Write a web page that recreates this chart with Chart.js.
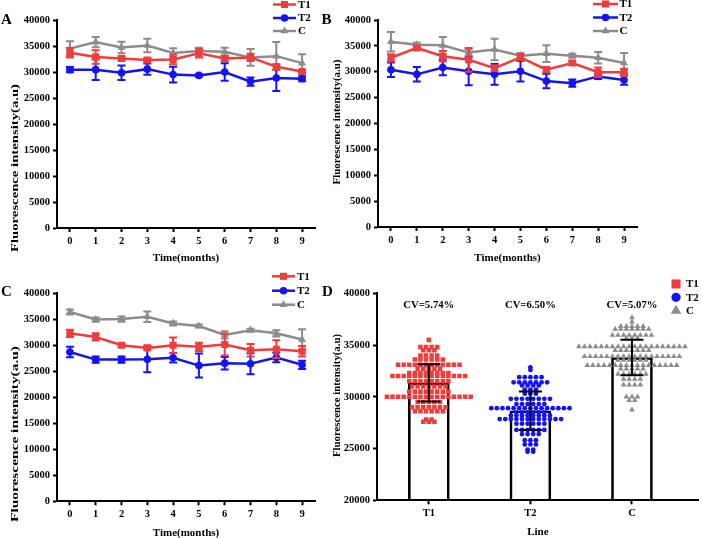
<!DOCTYPE html>
<html><head><meta charset="utf-8">
<script src="https://cdn.jsdelivr.net/npm/chart.js@4.4.1/dist/chart.umd.min.js"></script>
<style>
html,body{margin:0;padding:0;background:#fff;}
#wrap{position:relative;width:702px;height:538px;overflow:hidden;background:#fff;}
canvas{position:absolute;display:block;}
</style></head><body>
<div id="wrap">
<canvas id="cA" width="320" height="269" style="left:0;top:0"></canvas>
<canvas id="cB" width="382" height="269" style="left:320px;top:0"></canvas>
<canvas id="cC" width="320" height="269" style="left:0;top:269px"></canvas>
<canvas id="cD" width="382" height="269" style="left:320px;top:269px"></canvas>
</div>
<script>
// ---------------- DATA ----------------
const months = ['0','1','2','3','4','5','6','7','8','9'];
const groups = ['T1','T2','C'];

// Panel A
const aT1    = [33700,32900,32600,32300,32400,33600,32600,32800,31000,30100];
const aT1Err = [900,1300,400,400,900,800,500,700,500,300];
const aT2    = [30450,30450,29850,30550,29500,29350,30000,28150,28850,28700];
const aT2Err = [500,2000,1400,1100,1500,200,1700,800,2500,500];
const aC     = [34500,35750,34700,35100,33650,34050,33900,32800,33050,31700];
const aCErr  = [1400,1000,1100,1300,900,600,750,1600,2700,1700];

// Panel B
const bT1    = [32700,34600,33000,32300,30700,32800,30400,31700,29900,29900];
const bT1Err = [700,400,1000,2300,500,600,500,400,900,700];
const bT2    = [30400,29500,30800,30100,29500,30100,28200,27800,29100,28400];
const bT2Err = [1400,1400,1500,2700,2000,2000,1400,700,500,900];
const bC     = [35800,35200,35100,33700,34300,33100,33500,33100,32700,31700];
const bCErr  = [1900,400,1600,600,2100,500,1600,400,1100,1900];

// Panel C
const cT1    = [32300,31600,30000,29500,30000,29700,30150,29050,29250,28850];
const cT1Err = [700,700,300,400,1500,800,2100,1200,1700,1000];
const cT2    = [28700,27250,27250,27300,27600,26100,26570,26450,27650,26250];
const cT2Err = [1000,600,600,2500,900,2300,1200,2000,900,800];
const cC     = [36400,34950,35050,35500,34200,33700,32000,32900,32300,31100];
const cCErr  = [500,400,500,1000,400,300,700,300,600,2000];

// Panel D : mean, SD, CV labels
const dMeans = [31350,28650,33800];
const dSD    = [1800,1860,1715];
const dCV    = ['CV=5.74%','CV=6.50%','CV=5.07%'];
// Panel D individual dots: [value, number of dots at that value]
const dT1Rows = [[35500,1],[34800,4],[34500,3],[34000,4],[33600,6],[33100,12],[32700,5],[32300,8],[32000,14],
                 [31500,8],[31000,7],[30500,8],[30000,16],[29500,5],[29000,7],[28600,6],[27800,2],[27600,3]];
const dT2Rows = [[32850,1],[32600,1],[31900,5],[31400,7],[31100,4],[30700,3],[30300,3],[29800,8],[29300,6],
                 [28900,15],[28500,6],[28200,8],[27850,12],[27400,6],[26800,6],[26400,4],[25800,3],[25400,3],
                 [24900,2],[24700,2]];
const dCRows  = [[37650,1],[37250,1],[36800,5],[36550,7],[35950,8],[35650,3],[34850,20],[34500,7],[33900,18],
                 [33550,6],[33050,17],[32700,5],[32200,6],[31700,4],[31150,4],[30000,3],[29650,2],[28750,1]];

// ---------------- STYLE ----------------
const FONT = '"Liberation Serif", "Times New Roman", serif';
const COL = {T1:'#F03C3C', T2:'#1414F0', C:'#8C8C8C'};
const STYLE = {T1:'rect', T2:'circle', C:'triangle'};
const RAD = {T1:5, T2:3.8, C:4.6};

function drawMarker(ctx, style, x, y, r, color){
  ctx.save(); ctx.fillStyle = color; ctx.beginPath();
  if (style === 'rect'){ const s = r*Math.SQRT1_2; ctx.rect(x-s, y-s, 2*s, 2*s); }
  else if (style === 'circle'){ ctx.arc(x, y, r, 0, Math.PI*2); }
  else { ctx.moveTo(x, y - r); ctx.lineTo(x + r*0.866, y + r*0.5); ctx.lineTo(x - r*0.866, y + r*0.5); ctx.closePath(); }
  ctx.fill(); ctx.restore();
}

function yTitle(ctx, text, cx, cy, len){
  ctx.save(); ctx.translate(cx, cy); ctx.rotate(-Math.PI/2);
  ctx.font = 'bold 11px ' + FONT;
  const w = ctx.measureText(text).width;
  ctx.scale(len / w, 1);
  ctx.fillStyle = '#000'; ctx.textAlign = 'center'; ctx.textBaseline = 'middle';
  ctx.fillText(text, 0, 0); ctx.restore();
}

const decoPlugin = {
  id: 'deco',
  beforeDatasetDraw(chart, args, opts){
    const ds = chart.data.datasets[args.index];
    if (!ds.errors) return;
    const ctx = chart.ctx, ys = chart.scales.y;
    ctx.save(); ctx.strokeStyle = ds.borderColor; ctx.lineWidth = 2;
    args.meta.data.forEach((pt, i) => {
      const v = ds.data[i], e = ds.errors[i];
      const t = ys.getPixelForValue(v + e), b = ys.getPixelForValue(v - e);
      ctx.beginPath();
      ctx.moveTo(pt.x, t); ctx.lineTo(pt.x, b);
      ctx.moveTo(pt.x - 4, t); ctx.lineTo(pt.x + 4, t);
      ctx.moveTo(pt.x - 4, b); ctx.lineTo(pt.x + 4, b);
      ctx.stroke();
    });
    ctx.restore();
  },
  afterDraw(chart, args, o){
    const ctx = chart.ctx, ca = chart.chartArea;
    ctx.save();
    ctx.font = 'bold 15px ' + FONT; ctx.fillStyle = '#000';
    ctx.textAlign = 'left'; ctx.textBaseline = 'middle';
    ctx.fillText(o.label, o.labelX, o.labelY);
    yTitle(ctx, 'Fluorescence intensity(a.u)', o.yt[0], o.yt[1], o.yt[2]);
    ctx.font = 'bold 11px ' + FONT; ctx.textAlign = 'center'; ctx.textBaseline = 'middle'; ctx.fillStyle = '#000';
    ctx.fillText(o.xTitle, (ca.left + ca.right)/2, o.xTitleY);
    const L = o.legend;
    groups.forEach((g, i) => {
      const y = L.rows[i];
      if (L.lines){
        ctx.strokeStyle = COL[g]; ctx.lineWidth = 2.5;
        ctx.beginPath(); ctx.moveTo(L.x1, y); ctx.lineTo(L.x2, y); ctx.stroke();
      }
      drawMarker(ctx, STYLE[g], L.mx, y, L.r[g], COL[g]);
      ctx.font = 'bold 11px ' + FONT; ctx.fillStyle = '#000'; ctx.textAlign = 'left'; ctx.textBaseline = 'middle';
      ctx.fillText(g, L.tx, y + 0.5);
    });
    ctx.restore();
  }
};

function axisCommon(){
  return {
    grid: {display:true, drawOnChartArea:false, drawTicks:true, tickLength:4, tickWidth:2, tickColor:'#000'},
    border: {display:true, color:'#000', width:2},
    ticks: {color:'#000', font:{family:FONT, size:10.5, weight:'bold', lineHeight:1.2}}
  };
}

function lineChart(id, sets, lay, deco){
  const ds = sets.map(([g, vals, errs]) => ({
    label: g, data: vals, errors: errs,
    borderColor: COL[g], backgroundColor: COL[g], borderWidth: 2.5,
    pointStyle: STYLE[g], pointRadius: RAD[g], pointBorderWidth: 0, pointHoverRadius: RAD[g],
    tension: 0, fill: false
  }));
  const xa = axisCommon(), ya = axisCommon();
  Object.assign(xa, {type:'category', offset:true, afterFit: s => { s.height = lay.xh; }});
  xa.ticks.padding = 2.5; xa.ticks.maxRotation = 0; xa.ticks.autoSkip = false;
  Object.assign(ya, {min:0, max:40000, afterFit: s => { s.width = lay.yw; }});
  ya.ticks.stepSize = 5000; ya.ticks.padding = 3; ya.ticks.callback = v => String(v);
  return new Chart(document.getElementById(id), {
    type: 'line',
    data: {labels: months, datasets: ds},
    options: {
      responsive:false, animation:false, devicePixelRatio:1,
      layout: {padding: {left:0, top:lay.top, right:lay.right, bottom:0}},
      plugins: {legend:{display:false}, tooltip:{enabled:false}, deco: deco},
      scales: {x: xa, y: ya}
    },
    plugins: [decoPlugin]
  });
}

lineChart('cA', [['T1',aT1,aT1Err],['T2',aT2,aT2Err],['C',aC,aCErr]],
  {xh:41, yw:57, top:20, right:5},
  {label:'A', labelX:1, labelY:20.5, yt:[15.5,168,168], xTitle:'Time(months)', xTitleY:258,
   legend:{lines:true, x1:273, x2:296, mx:284.5, tx:298, rows:[4.5,18,31], r:RAD}});

lineChart('cB', [['T1',bT1,bT1Err],['T2',bT2,bT2Err],['C',bC,bCErr]],
  {xh:42, yw:58, top:20, right:65},
  {label:'B', labelX:1.5, labelY:20.5, yt:[17,122,125], xTitle:'Time(months)', xTitleY:258,
   legend:{lines:true, x1:273, x2:298, mx:285.5, tx:299.5, rows:[4,17.5,31], r:RAD}});

lineChart('cC', [['T1',cT1,cT1Err],['T2',cT2,cT2Err],['C',cC,cCErr]],
  {xh:36.7, yw:57, top:24.3, right:5},
  {label:'C', labelX:1, labelY:23, yt:[15.5,165,176], xTitle:'Time(months)', xTitleY:264,
   legend:{lines:true, x1:272, x2:295, mx:283.5, tx:297, rows:[7.3,21.7,35.7], r:RAD}});

// ---------------- Panel D ----------------
const DOT_STEP = 0.055;
function swarm(rows, center){
  const pts = [];
  rows.forEach(([v, n]) => { for (let i = 0; i < n; i++) pts.push({x: center + (i - (n-1)/2)*DOT_STEP, y: v}); });
  return pts;
}
const dPlugin = {
  id: 'dbars',
  afterDatasetsDraw(chart){
    const ctx = chart.ctx, xs = chart.scales.x, ys = chart.scales.y;
    ctx.save(); ctx.strokeStyle = '#000'; ctx.lineWidth = 2;
    dMeans.forEach((m, i) => {
      const x = xs.getPixelForValue(i), t = ys.getPixelForValue(m + dSD[i]), b = ys.getPixelForValue(m - dSD[i]);
      ctx.beginPath();
      ctx.moveTo(x, t); ctx.lineTo(x, b);
      ctx.moveTo(x - 11.5, t); ctx.lineTo(x + 11.5, t);
      ctx.moveTo(x - 11.5, b); ctx.lineTo(x + 11.5, b);
      ctx.stroke();
      ctx.font = 'bold 10.7px ' + FONT; ctx.fillStyle = '#000'; ctx.textAlign = 'center'; ctx.textBaseline = 'middle';
      ctx.fillText(dCV[i], x, 36.7);
    });
    ctx.restore();
  }
};
(function(){
  const xa = axisCommon(), ya = axisCommon();
  Object.assign(xa, {type:'linear', min:-0.51, max:2.657, offset:false, bounds:'ticks',
    afterBuildTicks: s => { s.ticks = groups.map((g, i) => ({value: i})); },
    afterFit: s => { s.height = 37.7; }});
  xa.grid.offset = false;
  xa.ticks.padding = 3; xa.ticks.maxRotation = 0; xa.ticks.autoSkip = false;
  xa.ticks.callback = (v) => groups[v];
  Object.assign(ya, {type:'linear', min:20000, max:40000, afterFit: s => { s.width = 57; }});
  ya.ticks.stepSize = 5000; ya.ticks.padding = 3; ya.ticks.callback = v => String(v);
  const dotRad = {T1:3.2, T2:2.4, C:3.3};
  const rowsOf = {T1:dT1Rows, T2:dT2Rows, C:dCRows};
  const sets = groups.map((g, i) => ({
    type:'scatter', label:g, data: swarm(rowsOf[g], i), order: i+1,
    pointStyle: STYLE[g], pointRadius: dotRad[g], pointHoverRadius: dotRad[g],
    backgroundColor: COL[g], borderColor: COL[g], pointBorderWidth: 0
  }));
  sets.push({type:'bar', label:'mean', data: dMeans.map((m, i) => ({x:i, y:m})), order: 10,
    base: 20000, barThickness: 41, backgroundColor:'rgba(255,255,255,0)', borderColor:'#000', borderWidth: 2,
    borderSkipped: 'start'});
  new Chart(document.getElementById('cD'), {
    type: 'scatter',
    data: {datasets: sets},
    options: {
      responsive:false, animation:false, devicePixelRatio:1,
      layout: {padding: {left:0, top:24.3, right:2, bottom:0}},
      plugins: {legend:{display:false}, tooltip:{enabled:false},
        deco: {label:'D', labelX:2, labelY:23, yt:[17,126.5,123], xTitle:'Line', xTitleY:262.7,
          legend:{lines:false, mx:356, tx:366, rows:[15,28.3,41.7], r:{T1:6.4, T2:4.6, C:6}}}},
      scales: {x: xa, y: ya}
    },
    plugins: [decoPlugin, dPlugin]
  });
})();
</script>
</body></html>
